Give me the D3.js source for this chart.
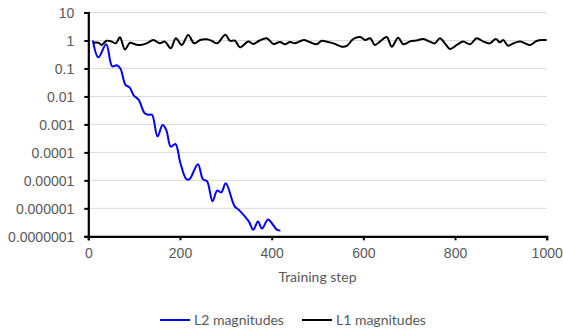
<!DOCTYPE html>
<html>
<head>
<meta charset="utf-8">
<script src="https://cdn.jsdelivr.net/npm/d3@7"></script>
<style>
  body { margin: 0; background: #fff; overflow: hidden; }
  svg { display: block; }
</style>
</head>
<body>
<div class="chart"></div>
<script>
const WIDTH = 563;
const HEIGHT = 332;
const MARGIN = {TOP: 12.5, BOTTOM: 95.7, RIGHT: 16.3, LEFT: 88.3};
const innerWidth = WIDTH - MARGIN.LEFT - MARGIN.RIGHT;
const innerHeight = HEIGHT - MARGIN.TOP - MARGIN.BOTTOM;
const TICK_FONT = '"Liberation Sans", Arial, sans-serif';
const LABEL_FONT = 'Lato, "Open Sans", sans-serif';

// tick labels
const xTicks = [0, 200, 400, 600, 800, 1000];
const yTicks = [10, 1, 0.1, 0.01, 0.001, 0.0001, 0.00001, 0.000001, 0.0000001];
const yTickLabels = ['10', '1', '0.1', '0.01', '0.001', '0.0001', '0.00001', '0.000001', '0.0000001'];

// L2 magnitudes (blue)
const l2Steps = [10, 22, 39, 52, 62, 70, 81, 90, 99, 110,
    123, 132, 139, 151, 162, 170, 180, 190, 201, 214,
    221, 239, 250, 259, 271, 281, 290, 300, 319, 329,
    350, 360, 370, 379, 392, 402, 412, 419];
const l2Values = [1, 0.25, 0.73, 0.12, 0.13, 0.1, 0.026, 0.021, 0.011, 0.0075,
    0.0025, 0.0022, 0.0022, 0.00037, 0.00095, 0.00064, 0.00016, 0.0002, 4.1e-5, 1.1e-5,
    1.1e-5, 3.8e-5, 1.1e-5, 9.3e-6, 1.8e-6, 4.3e-6, 3.7e-6, 7.9e-6, 1.2e-6, 8.6e-7,
    3.4e-7, 1.7e-7, 3.4e-7, 1.9e-7, 4e-7, 2.7e-7, 1.7e-7, 1.6e-7];

// L1 magnitudes (black)
const l1Steps = [10, 22, 29, 40, 51, 60, 69, 80, 91, 102,
    113, 127, 142, 156, 167, 180, 191, 204, 218, 231,
    244, 258, 269, 281, 299, 309, 320, 331, 349, 360,
    373, 389, 404, 418, 429, 440, 451, 470, 484, 498,
    509, 520, 535, 553, 564, 578, 593, 604, 615, 625,
    636, 651, 662, 676, 687, 702, 716, 731, 745, 756,
    767, 778, 789, 804, 818, 833, 847, 862, 876, 889,
    898, 905, 916, 927, 942, 953, 964, 978, 993, 1000];
const l1Values = [0.83, 0.83, 0.69, 0.98, 0.91, 0.79, 1.3, 0.48, 0.83, 0.73,
    0.69, 0.79, 1.04, 0.79, 0.91, 0.53, 1.2, 0.69, 1.57, 0.79,
    1.04, 1.1, 0.98, 0.79, 1.6, 0.98, 0.98, 0.57, 0.91, 0.75,
    0.98, 1.2, 0.75, 0.88, 0.73, 0.88, 0.79, 1.04, 0.86, 0.73,
    0.98, 0.91, 0.79, 0.6, 0.64, 1.13, 1.33, 1.04, 1.2, 0.69,
    0.91, 1.33, 0.6, 1.26, 0.73, 0.93, 1.0, 1.13, 0.91, 0.79,
    1.2, 0.79, 0.5, 0.69, 0.91, 0.73, 1.2, 0.91, 0.79, 1.13,
    0.86, 1.04, 0.65, 0.79, 0.91, 0.79, 0.69, 0.96, 1.04, 1.04];

const seriesNames = ['L2 magnitudes', 'L1 magnitudes'];
const seriesColors = ['#0000ff', '#000000'];

var xScale = d3.scaleLinear().range([0, innerWidth]).domain([0, 1000]);
var yScale = d3.scaleLog().range([innerHeight, 0]).domain([1e-7, 10]);

var svg = d3.select('.chart').append('svg')
    .attr('width', WIDTH)
    .attr('height', HEIGHT);

var mainGroup = svg.append('g')
    .attr('transform', 'translate(' + MARGIN.LEFT + ',' + MARGIN.TOP + ')');

// gridlines
mainGroup.append('g').selectAll('line')
    .data(yTicks.slice(0, -1))
    .enter().append('line')
    .attr('x1', 0).attr('x2', innerWidth)
    .attr('y1', d => yScale(d)).attr('y2', d => yScale(d))
    .attr('stroke', '#d9d9d9').attr('stroke-width', 1);

var yAxis = d3.axisLeft(yScale)
    .tickValues(yTicks)
    .tickSize(4)
    .tickPadding(10)
    .tickFormat((d, i) => yTickLabels[i]);

var xAxis = d3.axisBottom(xScale)
    .tickValues(xTicks)
    .tickSize(4)
    .tickPadding(5)
    .tickFormat(d3.format('d'));

var xAxisG = mainGroup.append('g')
    .attr('transform', 'translate(0,' + innerHeight + ')')
    .call(xAxis);
var yAxisG = mainGroup.append('g').call(yAxis);

[xAxisG, yAxisG].forEach(function (g) {
    g.attr('font-family', TICK_FONT).attr('font-size', 14);
    g.select('.domain').attr('stroke', '#000').attr('stroke-width', 2.2);
    g.selectAll('.tick line').attr('stroke', '#000').attr('stroke-width', 2);
    g.selectAll('.tick text').attr('fill', '#595959').attr('dy', null);
});
xAxisG.selectAll('.tick text').attr('y', 22);
yAxisG.selectAll('.tick text').attr('y', 5);

var line = d3.line()
    .x(d => xScale(d[0]))
    .y(d => yScale(d[1]))
    .curve(d3.curveCatmullRom.alpha(0.5));

var series = [
    d3.zip(l2Steps, l2Values),
    d3.zip(l1Steps, l1Values)
];

mainGroup.selectAll('.series')
    .data(series)
    .enter().append('path')
    .attr('class', 'series')
    .attr('d', line)
    .attr('fill', 'none')
    .attr('stroke', (d, i) => seriesColors[i])
    .attr('stroke-width', 2)
    .attr('stroke-linejoin', 'round');

svg.append('text')
    .attr('x', MARGIN.LEFT + innerWidth / 2)
    .attr('y', 282)
    .attr('text-anchor', 'middle')
    .attr('font-family', LABEL_FONT)
    .attr('font-size', 14)
    .attr('fill', '#595959')
    .text('Training step');

// legend
var legendX = [160, 302];
var legend = svg.selectAll('.legend')
    .data(seriesNames)
    .enter().append('g')
    .attr('transform', (d, i) => 'translate(' + legendX[i] + ',320)');
legend.append('line')
    .attr('x1', 0).attr('x2', 30)
    .attr('stroke', (d, i) => seriesColors[i])
    .attr('stroke-width', 2);
legend.append('text')
    .attr('x', 34)
    .attr('y', 5)
    .attr('font-family', LABEL_FONT)
    .attr('font-size', 14)
    .attr('fill', '#595959')
    .text(d => d);
</script>
</body>
</html>
